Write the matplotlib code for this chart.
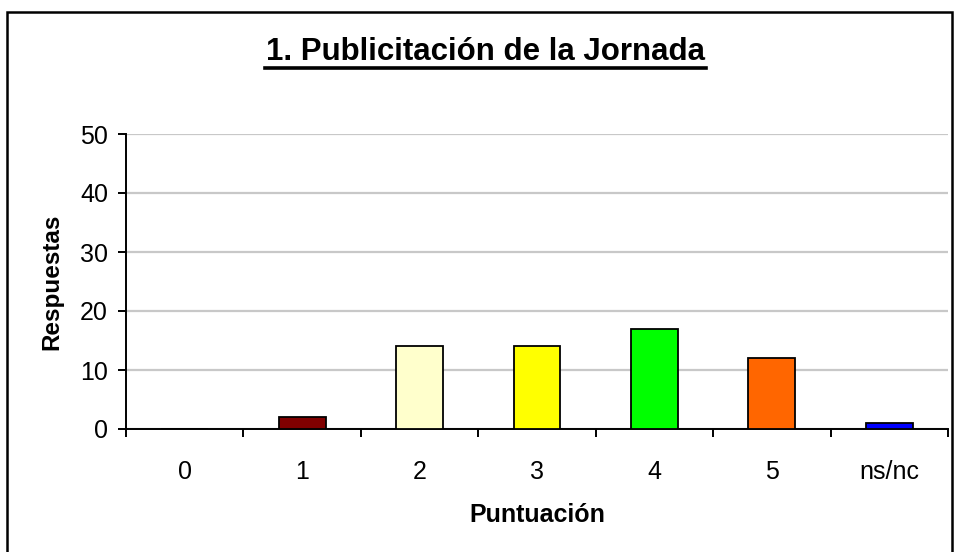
import matplotlib
matplotlib.use("Agg")
import matplotlib.pyplot as plt
from matplotlib.patches import Rectangle
from matplotlib.lines import Line2D
import numpy as np

categories = ["0", "1", "2", "3", "4", "5", "ns/nc"]
values = [0, 2, 14, 14, 17, 12, 1]
colors = ["#ffffff", "#800000", "#ffffcc", "#ffff00", "#00ff00", "#ff6600", "#0000ff"]
title = "1. Publicitación de la Jornada"

plt.rcParams['font.family'] = ['Liberation Sans', 'DejaVu Sans']

W, H = 956, 552
fig = plt.figure(figsize=(W / 100, H / 100), dpi=100)
fig.patches.append(Rectangle((7 / W, -0.02), (952 - 7) / W, 1.02 - 12 / H,
                             transform=fig.transFigure, fill=False,
                             edgecolor='black', linewidth=1.8))
ax = fig.add_axes([126 / W, 1 - 429 / H, (948 - 126) / W, (429 - 134) / H])
x = np.arange(len(categories))
ax.bar(x, values, width=0.4, color=colors, edgecolor='black', linewidth=1.3, zorder=3)
ax.set_xlim(-0.5, len(categories) - 0.5)
ax.set_ylim(0, 50)
ax.set_yticks([0, 10, 20, 30, 40, 50])
ax.yaxis.grid(True, color='#c8c8c8', linewidth=1.6, zorder=0)
ax.set_axisbelow(True)
for s in ['top', 'right']:
    ax.spines[s].set_visible(False)
ax.spines['left'].set_linewidth(1.4)
ax.spines['bottom'].set_linewidth(1.4)
ax.set_xticks(np.arange(-0.5, len(categories)), minor=False)
ax.set_xticklabels([])
ax.set_xticks(x, minor=True)
ax.set_xticklabels(categories, minor=True, fontsize=18)
ax.tick_params(axis='x', which='major', length=6, width=1.4, direction='out')
ax.tick_params(axis='x', which='minor', length=0, pad=22)
ax.tick_params(axis='y', length=6, width=1.4, labelsize=18, pad=7)
ax.set_ylabel("Respuestas", fontsize=17.5, fontweight='bold', va='center')
ax.yaxis.set_label_coords(-(126 - 52) / 822, 0.5)
ax.set_xlabel("Puntuación", fontsize=18, fontweight='bold', va='baseline')
ax.xaxis.set_label_coords(0.5, -(522 - 429) / 295)

t = fig.text(0.5 + (486 - 478) / W, 1 - 60 / H, title, ha='center', va='baseline',
             fontsize=22.5, fontweight='bold')
fig.canvas.draw()
bb = t.get_window_extent().transformed(fig.transFigure.inverted())
fig.add_artist(Line2D([bb.x0 - 2 / W, bb.x1 + 1 / W], [1 - 68 / H, 1 - 68 / H],
                      transform=fig.transFigure, color='black', linewidth=2.6))
fig.savefig("out.png", dpi=100)
